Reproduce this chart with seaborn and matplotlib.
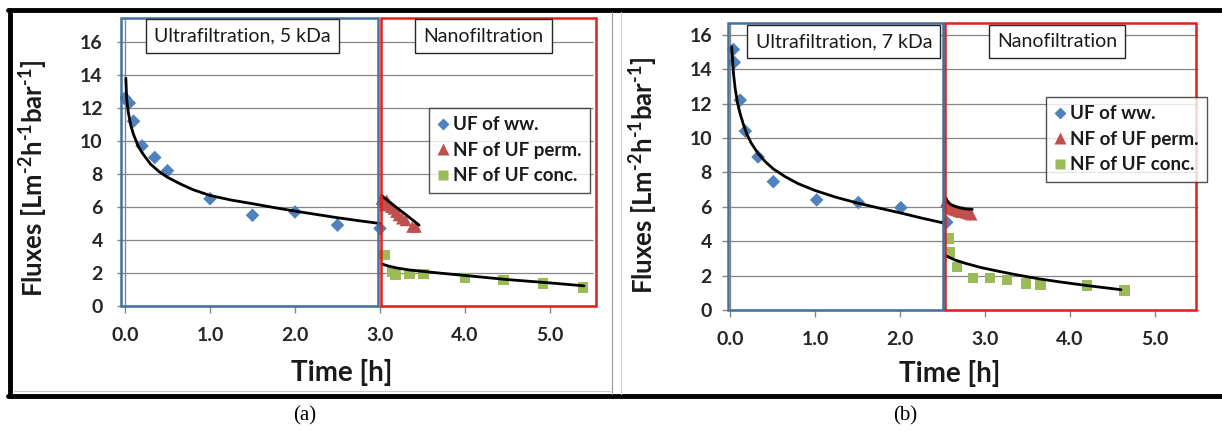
import matplotlib
matplotlib.use("Agg")
import matplotlib.pyplot as plt
import seaborn as sns
import pandas as pd
from matplotlib.patches import Rectangle
from matplotlib.lines import Line2D

# ---------------- data: panel (a) UF 5 kDa ----------------
a_uf_t = [0.0, 0.05, 0.1, 0.2, 0.35, 0.5, 1.0, 1.5, 2.0, 2.5, 3.0]
a_uf_j = [12.6, 12.3, 11.2, 9.7, 9.0, 8.2, 6.5, 5.5, 5.7, 4.9, 4.7]
a_perm_t = [3.02, 3.04, 3.06, 3.08, 3.10, 3.13, 3.16, 3.19, 3.22, 3.26, 3.30, 3.38, 3.42]
a_perm_j = [6.5, 6.3, 6.1, 6.4, 6.2, 6.0, 5.9, 5.7, 5.5, 5.3, 5.2, 4.8, 4.8]
a_conc_t = [3.05, 3.14, 3.18, 3.35, 3.51, 4.0, 4.45, 4.92, 5.39]
a_conc_j = [3.1, 2.05, 1.92, 1.94, 1.94, 1.7, 1.58, 1.37, 1.12]
a_fit_uf_t = [0.01, 0.02, 0.04, 0.07, 0.1, 0.15, 0.2, 0.3, 0.4, 0.5, 0.65, 0.8, 1.0,
              1.25, 1.5, 1.75, 2.0, 2.25, 2.5, 2.75, 3.0]
a_fit_uf_j = [13.8, 12.5, 11.7, 10.9, 10.4, 9.75, 9.3, 8.6, 8.15, 7.8, 7.4, 7.05, 6.7,
              6.42, 6.2, 5.97, 5.75, 5.55, 5.35, 5.17, 5.0]
a_fit_perm_t = [3.02, 3.1, 3.2, 3.3, 3.4, 3.46]
a_fit_perm_j = [6.7, 6.35, 5.95, 5.55, 5.15, 4.9]
a_fit_conc_t = [3.02, 3.1, 3.2, 3.35, 3.5, 3.75, 4.0, 4.5, 5.0, 5.4]
a_fit_conc_j = [2.55, 2.42, 2.3, 2.18, 2.1, 1.97, 1.85, 1.6, 1.4, 1.22]

# ---------------- data: panel (b) UF 7 kDa ----------------
b_uf_t = [0.04, 0.05, 0.12, 0.18, 0.33, 0.51, 1.02, 1.51, 2.01, 2.55]
b_uf_j = [15.15, 14.4, 12.2, 10.4, 8.9, 7.46, 6.4, 6.25, 5.95, 5.1]
b_perm_t = [2.54, 2.56, 2.58, 2.60, 2.63, 2.66, 2.69, 2.72, 2.75, 2.78, 2.81, 2.84]
b_perm_j = [6.3, 6.1, 6.0, 5.9, 5.85, 5.8, 5.75, 5.7, 5.7, 5.65, 5.6, 5.55]
b_conc_t = [2.57, 2.59, 2.67, 2.86, 3.06, 3.26, 3.48, 3.65, 4.2, 4.64]
b_conc_j = [4.15, 3.35, 2.5, 1.85, 1.85, 1.75, 1.55, 1.45, 1.42, 1.15]
b_fit_uf_t = [0.02, 0.04, 0.06, 0.09, 0.12, 0.16, 0.2, 0.25, 0.33, 0.42, 0.51, 0.65,
              0.8, 1.0, 1.25, 1.5, 1.75, 2.0, 2.25, 2.52]
b_fit_uf_j = [15.3, 13.8, 12.9, 12.0, 11.4, 10.75, 10.2, 9.7, 9.1, 8.6, 8.2, 7.75,
              7.35, 6.95, 6.55, 6.22, 5.93, 5.65, 5.35, 5.05]
b_fit_perm_t = [2.54, 2.56, 2.58, 2.61, 2.65, 2.70, 2.77, 2.85]
b_fit_perm_j = [6.5, 6.32, 6.2, 6.1, 6.02, 5.95, 5.88, 5.85]
b_fit_conc_t = [2.54, 2.65, 2.78, 2.95, 3.18, 3.4, 3.65, 3.9, 4.2, 4.6]
b_fit_conc_j = [3.15, 2.9, 2.7, 2.47, 2.23, 2.02, 1.8, 1.62, 1.42, 1.18]

series_names = ["UF of ww.", "NF of UF perm.", "NF of UF conc."]
x_ticks = [0.0, 1.0, 2.0, 3.0, 4.0, 5.0]
y_ticks = [0, 2, 4, 6, 8, 10, 12, 14, 16]

# ---------------- style ----------------
sns.set_theme(style="white")
plt.rcParams["font.family"] = ["Lato", "DejaVu Sans"]
plt.rcParams["mathtext.fontset"] = "custom"
plt.rcParams["mathtext.rm"] = "Lato:bold"
plt.rcParams["mathtext.bf"] = "Lato:bold"
plt.rcParams["mathtext.default"] = "bf"

C_BLUE = "#4F81BD"
C_RED = "#C0504D"
C_GREEN = "#9BBB59"
C_AXIS = "#868686"
C_BOXB = "#41719C"
C_BOXR = "#E0201B"
C_TXT = "#1a1a1a"

W, H = 1222, 437
fig = plt.figure(figsize=(W / 100, H / 100), dpi=100)
fig.patch.set_facecolor("white")


def fx(px):
    return px / W


def fy(py):
    return 1 - py / H


def make_axes(x0px, y0px, pxh, pxu, ylim_top):
    xlo, xhi = -0.06, 5.56
    left = x0px + xlo * pxh
    width = (xhi - xlo) * pxh
    height = ylim_top * pxu
    ax = fig.add_axes([left / W, (H - y0px) / H, width / W, height / H])
    ax.set_xlim(xlo, xhi)
    ax.set_ylim(0, ylim_top)
    ax.set_facecolor("none")
    return ax


def draw_panel(ax, d, box_split, box_top, box_left, box_right, uf_text, uf_xy, nf_xy,
               leg_anchor, ylab_xy, xlab_xy, ytick_pad):
    ax.hlines(y_ticks[1:], 0, 5.5, color=C_AXIS, lw=0.9, zorder=0)
    for s in ["top", "right"]:
        ax.spines[s].set_visible(False)
    ax.spines["left"].set_position(("data", 0))
    ax.spines["left"].set_bounds(0, box_top)
    ax.spines["bottom"].set_bounds(0, 5.5)
    for s in ["left", "bottom"]:
        ax.spines[s].set_color(C_AXIS)
        ax.spines[s].set_linewidth(1.0)
    ax.set_xticks(x_ticks)
    ax.set_xticklabels([f"{v:.1f}" for v in x_ticks])
    ax.set_yticks(y_ticks)
    ax.tick_params(axis="x", direction="out", length=5, width=1, color=C_AXIS, pad=10,
                   labelsize=14, labelcolor="#262626", bottom=True)
    ax.tick_params(axis="y", direction="out", length=6, width=1, color=C_AXIS, pad=ytick_pad,
                   labelsize=14, labelcolor="#262626", left=True)
    for lab in ax.get_xticklabels() + ax.get_yticklabels():
        lab.set_fontweight("bold")

    sns.scatterplot(x=d["uf_t"], y=d["uf_j"], marker="D", s=48, color=C_BLUE,
                    edgecolor="none", ax=ax, zorder=3)
    sns.scatterplot(x=d["perm_t"], y=d["perm_j"], marker="^", s=75, color=C_RED,
                    edgecolor="none", ax=ax, zorder=3)
    sns.scatterplot(x=d["conc_t"], y=d["conc_j"], marker="s", s=58, color=C_GREEN,
                    edgecolor="none", ax=ax, zorder=3)
    for tkey, jkey in [("fit_uf_t", "fit_uf_j"), ("fit_perm_t", "fit_perm_j"),
                       ("fit_conc_t", "fit_conc_j")]:
        sns.lineplot(x=d[tkey], y=d[jkey], sort=False, estimator=None, color="black",
                     lw=2.0, ax=ax, zorder=4)

    ax.add_patch(Rectangle((box_split + 0.03, 0), box_right - box_split - 0.03, box_top,
                           fill=False, ec=C_BOXR, lw=1.8, zorder=5, clip_on=False))
    ax.add_patch(Rectangle((box_left, 0), box_split - box_left, box_top,
                           fill=False, ec=C_BOXB, lw=1.8, zorder=5, clip_on=False))

    bb = dict(boxstyle="square,pad=0.42", fc="white", ec="#262626", lw=1.0)
    ax.text(uf_xy[0], uf_xy[1], uf_text, ha="center", va="center", fontsize=14,
            color=C_TXT, bbox=bb, zorder=6)
    ax.text(nf_xy[0], nf_xy[1], "Nanofiltration", ha="center", va="center", fontsize=14,
            color=C_TXT, bbox=bb, zorder=6)

    handles = [
        Line2D([], [], marker="D", ls="none", color=C_BLUE, markersize=6.5, mec="none"),
        Line2D([], [], marker="^", ls="none", color=C_RED, markersize=9, mec="none"),
        Line2D([], [], marker="s", ls="none", color=C_GREEN, markersize=7.5, mec="none"),
    ]
    leg = ax.legend(handles, series_names, loc="upper left", bbox_to_anchor=leg_anchor,
                    borderaxespad=0, frameon=True, fancybox=False, handlelength=0.6,
                    handletextpad=0.25, labelspacing=0.45, borderpad=0.45,
                    prop={"size": 13.5, "weight": "bold"})
    leg.get_frame().set_edgecolor("#262626")
    leg.get_frame().set_linewidth(1.0)
    for t in leg.get_texts():
        t.set_color(C_TXT)
    leg.set_zorder(7)

    ax.set_xlabel("Time [h]", fontsize=20, fontweight="bold", color=C_TXT)
    ax.xaxis.set_label_coords(*xlab_xy)
    ax.set_ylabel(r"Fluxes [Lm$^{\text{-}2}$h$^{\text{-}1}$bar$^{\text{-}1}$]", fontsize=18.5,
                  fontweight="bold", color=C_TXT)
    ax.yaxis.set_label_coords(*ylab_xy)


data_a = dict(uf_t=a_uf_t, uf_j=a_uf_j, perm_t=a_perm_t, perm_j=a_perm_j,
              conc_t=a_conc_t, conc_j=a_conc_j, fit_uf_t=a_fit_uf_t, fit_uf_j=a_fit_uf_j,
              fit_perm_t=a_fit_perm_t, fit_perm_j=a_fit_perm_j,
              fit_conc_t=a_fit_conc_t, fit_conc_j=a_fit_conc_j)
data_b = dict(uf_t=b_uf_t, uf_j=b_uf_j, perm_t=b_perm_t, perm_j=b_perm_j,
              conc_t=b_conc_t, conc_j=b_conc_j, fit_uf_t=b_fit_uf_t, fit_uf_j=b_fit_uf_j,
              fit_perm_t=b_fit_perm_t, fit_perm_j=b_fit_perm_j,
              fit_conc_t=b_fit_conc_t, fit_conc_j=b_fit_conc_j)

ax_a = make_axes(125, 306, 85, 16.5, 17.5)
draw_panel(ax_a, data_a, box_split=2.98, box_top=17.45, box_left=-0.05, box_right=5.54,
           uf_text="Ultrafiltration, 5 kDa", uf_xy=(1.38, 16.36), nf_xy=(4.22, 16.36),
           leg_anchor=(0.647, 0.686), ylab_xy=(-0.146, 0.443), xlab_xy=(0.465, -0.185),
           ytick_pad=10)

ax_b = make_axes(730, 310, 85, 17.2, 16.8)
draw_panel(ax_b, data_b, box_split=2.50, box_top=16.7, box_left=-0.02, box_right=5.48,
           uf_text="Ultrafiltration, 7 kDa", uf_xy=(1.34, 15.6), nf_xy=(3.85, 15.6),
           leg_anchor=(0.672, 0.737), ylab_xy=(-0.136, 0.467), xlab_xy=(0.471, -0.172),
           ytick_pad=7)

# outer frame decorations
fig.add_artist(Line2D([fx(8), fx(1222)], [fy(10), fy(10)], color="black", lw=3.5))
fig.add_artist(Line2D([fx(8), fx(1222)], [fy(396), fy(396)], color="black", lw=3.5))
fig.add_artist(Line2D([fx(10), fx(10)], [fy(10), fy(396)], color="black", lw=3.5))
fig.add_artist(Line2D([fx(612), fx(612)], [fy(12), fy(394)], color="#9a9a9a", lw=0.8))
fig.add_artist(Line2D([fx(621), fx(621)], [fy(12), fy(394)], color="#d0d0d0", lw=0.8))
fig.add_artist(Line2D([fx(14), fx(610)], [fy(391), fy(391)], color="#c8c8c8", lw=0.8))

fig.text(fx(305), fy(416), "(a)", ha="center", va="center", fontsize=15,
         family="Liberation Serif", color="black")
fig.text(fx(905), fy(416), "(b)", ha="center", va="center", fontsize=15,
         family="Liberation Serif", color="black")

fig.savefig("out.png", dpi=100)
